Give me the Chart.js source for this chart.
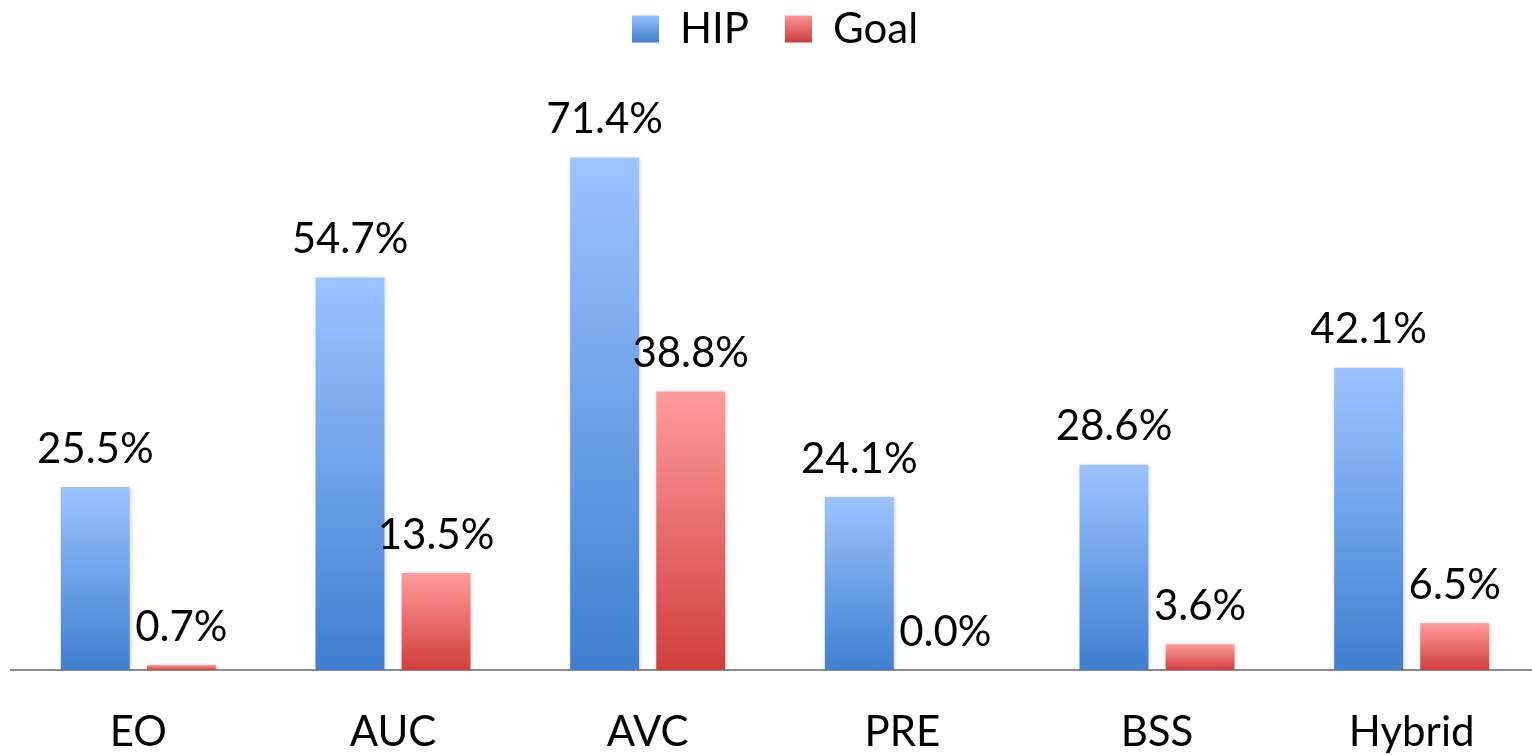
<!DOCTYPE html>
<html>
<head>
<meta charset="utf-8">
<script src="https://cdn.jsdelivr.net/npm/chart.js@4/dist/chart.umd.min.js"></script>
<style>
  html, body { margin: 0; padding: 0; background: #fff; overflow: hidden; }
  #wrap { width: 1540px; height: 755px; }
</style>
</head>
<body>
<div id="wrap"><canvas id="barChart"></canvas></div>
<script>
// chart data
const categories = ['EO', 'AUC', 'AVC', 'PRE', 'BSS', 'Hybrid'];
const hipValues = [25.5, 54.7, 71.4, 24.1, 28.6, 42.1];
const goalValues = [0.7, 13.5, 38.8, 0.0, 3.6, 6.5];
const seriesNames = ['HIP', 'Goal'];

const FONT = 'Lato, "Open Sans", sans-serif';
const blueStops = ['#9cc3ff', '#3f7fcf'];
const redStops = ['#ff9b9b', '#cf3f3c'];

// vertical gradient running from the top of each bar down to the axis
function barGradient(stops) {
  return (ctx) => {
    const chart = ctx.chart;
    const y = chart.scales.y;
    if (!y || ctx.dataIndex === undefined) return stops[1];
    const v = ctx.raw || 0;
    const top = y.getPixelForValue(v);
    const base = y.getPixelForValue(0);
    if (!isFinite(top) || base - top < 1) return stops[0];
    const g = chart.ctx.createLinearGradient(0, top, 0, base);
    g.addColorStop(0, stops[0]);
    g.addColorStop(1, stops[1]);
    return g;
  };
}

// value labels above each bar
const valueLabels = {
  id: 'valueLabels',
  afterDatasetsDraw(chart) {
    const ctx = chart.ctx;
    ctx.save();
    ctx.font = '42px ' + FONT;
    ctx.fillStyle = '#000';
    ctx.textAlign = 'center';
    ctx.textBaseline = 'middle';
    chart.data.datasets.forEach((ds, i) => {
      chart.getDatasetMeta(i).data.forEach((bar, j) => {
        ctx.fillText(ds.data[j].toFixed(1) + '%', bar.x, bar.y - 38);
      });
    });
    ctx.restore();
  }
};

// soft shadow under bars, like the office chart
const barShadow = {
  id: 'barShadow',
  beforeDatasetsDraw(chart) {
    const ctx = chart.ctx;
    ctx.save();
    ctx.shadowColor = 'rgba(0,0,0,0.18)';
    ctx.shadowBlur = 4;
    ctx.shadowOffsetX = 1;
    ctx.shadowOffsetY = 1;
  },
  afterDatasetsDraw(chart) {
    chart.ctx.restore();
  }
};

function legendBox(stops) {
  const c = document.getElementById('barChart').getContext('2d');
  const g = c.createLinearGradient(0, 14, 0, 42);
  g.addColorStop(0, stops[0]);
  g.addColorStop(1, stops[1]);
  return g;
}

new Chart(document.getElementById('barChart'), {
  type: 'bar',
  data: {
    labels: categories,
    datasets: [
      { label: seriesNames[0], data: hipValues, backgroundColor: barGradient(blueStops) },
      { label: seriesNames[1], data: goalValues, backgroundColor: barGradient(redStops) }
    ]
  },
  options: {
    responsive: true,
    maintainAspectRatio: false,
    animation: false,
    devicePixelRatio: 1,
    // negative top offsets the larger legend padding so the legend keeps its place
    layout: { padding: { left: 11, right: 1, top: -28, bottom: 0 } },
    datasets: { bar: { categoryPercentage: 0.676, barPercentage: 0.8 } },
    plugins: {
      tooltip: { enabled: false },
      legend: {
        position: 'top',
        labels: {
          font: { family: FONT, size: 42 },
          color: '#000',
          boxWidth: 27,
          boxHeight: 27,
          padding: 36,
          generateLabels: () => [
            { text: seriesNames[0], fillStyle: legendBox(blueStops), strokeStyle: 'transparent', lineWidth: 0, datasetIndex: 0 },
            { text: seriesNames[1], fillStyle: legendBox(redStops), strokeStyle: 'transparent', lineWidth: 0, datasetIndex: 1 }
          ]
        }
      }
    },
    scales: {
      x: {
        grid: { display: false, drawTicks: false },
        border: { display: true, color: '#8c8c8c', width: 2 },
        ticks: { font: { family: FONT, size: 42 }, color: '#000', padding: 37 },
        afterFit(scale) { scale.height = 85; }
      },
      y: {
        display: false,
        min: 0,
        max: 85
      }
    }
  },
  plugins: [barShadow, valueLabels]
});
</script>
</body>
</html>
